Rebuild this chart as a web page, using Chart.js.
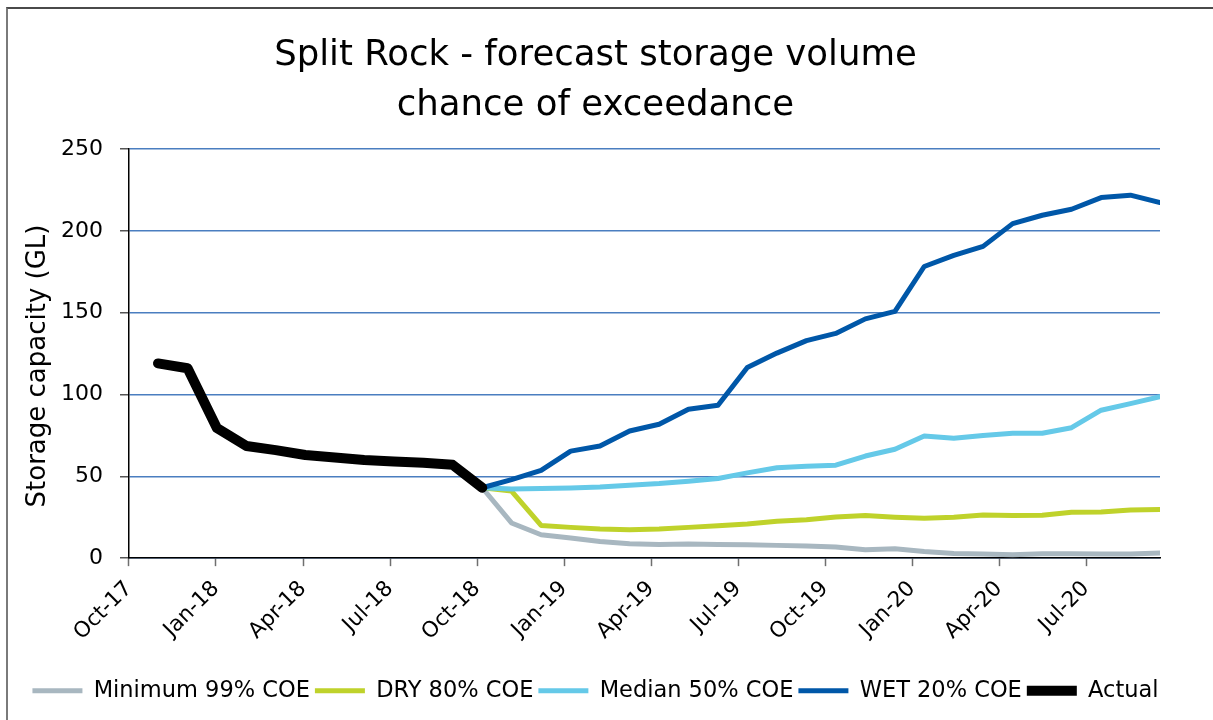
<!DOCTYPE html>
<html>
<head>
<meta charset="utf-8">
<title>Split Rock - forecast storage volume</title>
<script src="https://cdn.jsdelivr.net/npm/chart.js@4.4.1/dist/chart.umd.min.js"></script>
<style>
  html, body { margin: 0; padding: 0; background: #fff; }
  #wrap { position: relative; width: 1213px; height: 720px; overflow: hidden; }
  #frame { position: absolute; left: 6px; top: 7px; width: 1300px; height: 800px;
           border-top: 2px solid #4a4a4a; border-left: 2px solid #7a7a7a; }
  #chart { position: absolute; left: 0; top: 0; }
</style>
</head>
<body>
<div id="wrap">
  <div id="frame"></div>
  <canvas id="chart" width="1213" height="720"></canvas>
</div>
<script>
// x position of each monthly reading, in months after Oct-17
const monthPos = [1.00, 2.02, 3.03, 4.05, 5.06, 6.08, 7.10, 8.11, 9.13, 10.15, 11.16, 12.18,
  13.19, 14.21, 15.23, 16.24, 17.26, 18.28, 19.29, 20.31, 21.32, 22.34, 23.36, 24.37,
  25.39, 26.41, 27.42, 28.44, 29.45, 30.47, 31.49, 32.50, 33.52, 34.53, 35.55];

// axis ticks (every 3 months)
const tickMonths = [0, 3, 6, 9, 12, 15, 18, 21, 24, 27, 30, 33];
const tickLabels = ['Oct-17', 'Jan-18', 'Apr-18', 'Jul-18', 'Oct-18', 'Jan-19',
  'Apr-19', 'Jul-19', 'Oct-19', 'Jan-20', 'Apr-20', 'Jul-20'];

// storage volume (GL) - recorded, Nov-17 to Oct-18
const actual = [119, 116, 79.5, 68.5, 66, 63, 61.5, 60, 59, 58.3, 57, 43];

// forecasts start at the last recorded reading (Oct-18)
const forecastStart = 11;
const minimum99 = [43, 21.5, 14.3, 12.3, 10.2, 8.8, 8.4, 8.6, 8.4, 8.2, 7.8, 7.4,
  6.8, 5.1, 5.8, 4.1, 2.9, 2.5, 2.1, 2.7, 2.7, 2.5, 2.5, 3.1];
const dry80 = [43, 41, 20, 18.8, 17.8, 17.4, 17.8, 18.8, 19.8, 20.9, 22.5, 23.5,
  25.2, 26, 25, 24.3, 25, 26.4, 26, 26.2, 28, 28.2, 29.4, 29.7];
const median50 = [43, 42.3, 42.5, 42.9, 43.5, 44.6, 45.6, 47, 48.7, 52.1, 55.2, 56.2,
  56.8, 62.4, 66.5, 74.6, 73.2, 75, 76.3, 76.3, 79.7, 90.4, 94.4, 98.7];
const wet20 = [43, 48, 53.6, 65.4, 68.5, 77.7, 81.8, 91, 93.4, 116.5, 125.3, 132.9,
  137.3, 146.2, 150.8, 178.2, 185, 190.5, 204.4, 209.5, 213.2, 220.3, 221.8, 217.3];

const yTicks = [0, 50, 100, 150, 200, 250];

const FONT = "'DejaVu Sans', sans-serif";

function toPoints(values, start) {
  return values.map((v, i) => ({ x: monthPos[start + i], y: v }));
}

function line(label, values, start, color, width) {
  return {
    label: label,
    data: toPoints(values, start),
    borderColor: color,
    backgroundColor: color,
    borderWidth: width,
    borderCapStyle: 'round',
    borderJoinStyle: 'round',
    pointRadius: 0,
    pointHoverRadius: 0,
    tension: 0,
    fill: false
  };
}

const ctx = document.getElementById('chart').getContext('2d');
new Chart(ctx, {
  type: 'line',
  data: {
    // listed top-most first; legend is reversed back to the source order
    datasets: [
      line('Actual', actual, 0, '#000000', 10),
      line('WET 20% COE', wet20, forecastStart, '#0057A8', 5),
      line('Median 50% COE', median50, forecastStart, '#65C9E8', 5),
      line('DRY 80% COE', dry80, forecastStart, '#BFD22B', 5),
      line('Minimum 99% COE', minimum99, forecastStart, '#A8B7C0', 5)
    ]
  },
  options: {
    responsive: false,
    devicePixelRatio: 1,
    animation: false,
    layout: { padding: { left: 0, right: 22, top: 0, bottom: 8 } },
    plugins: {
      title: {
        display: true,
        text: ['Split Rock - forecast storage volume', 'chance of exceedance'],
        color: '#000',
        font: { family: FONT, size: 35.5, weight: 'normal', lineHeight: 50 / 35.5 },
        padding: { top: 31, bottom: 18 }
      },
      legend: {
        position: 'bottom',
        reverse: true,
        labels: {
          usePointStyle: true,
          pointStyle: 'line',
          pointStyleWidth: 50,
          padding: 5,
          color: '#000',
          font: { family: FONT, size: 22.5 }
        }
      },
      tooltip: { enabled: false }
    },
    scales: {
      x: {
        type: 'linear',
        min: 0,
        max: monthPos[monthPos.length - 1],
        afterBuildTicks: (scale) => {
          scale.ticks = tickMonths.map(v => ({ value: v }));
        },
        afterFit: (scale) => { scale.height += 19; },
        ticks: {
          autoSkip: false,
          minRotation: 45,
          maxRotation: 45,
          padding: 10,
          color: '#000',
          font: { family: FONT, size: 21.5 },
          callback: (v) => tickLabels[tickMonths.indexOf(v)]
        },
        grid: {
          drawOnChartArea: false,
          drawTicks: true,
          tickLength: 8,
          tickColor: '#6f6f6f',
          tickWidth: 1.5
        },
        border: { display: true, color: '#000', width: 1.5 }
      },
      y: {
        min: 0,
        max: 250,
        afterBuildTicks: (scale) => {
          scale.ticks = yTicks.map(v => ({ value: v }));
        },
        ticks: {
          padding: 17,
          color: '#000',
          font: { family: FONT, size: 22 }
        },
        grid: {
          color: '#4A7EC0',
          lineWidth: 1.5,
          drawTicks: true,
          tickLength: 9,
          tickColor: '#555',
          tickWidth: 1.5
        },
        border: { display: true, color: '#000', width: 1.5 },
        title: {
          display: true,
          // trailing spaces sit the visible words a little below the axis middle
          text: 'Storage capacity (GL)   ',
          color: '#000',
          font: { family: FONT, size: 26 },
          padding: { top: 22.4, bottom: -9.6 }
        }
      },
      // empty right-hand margin of the plot
      yRight: {
        position: 'right',
        display: true,
        min: 0,
        max: 250,
        afterFit: (scale) => { scale.width = 31; },
        ticks: { display: false },
        grid: { drawOnChartArea: false, drawTicks: false },
        border: { display: false }
      }
    }
  }
});
</script>
</body>
</html>
